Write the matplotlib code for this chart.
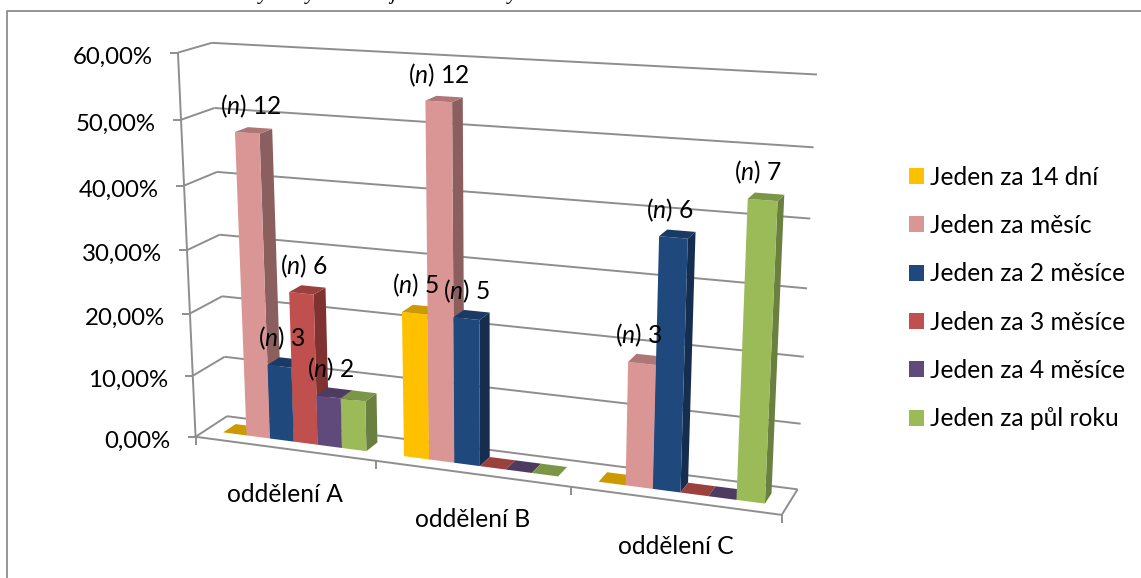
import numpy as np
import matplotlib
matplotlib.use("Agg")
import matplotlib.pyplot as plt
from matplotlib.patches import Patch

categories = ["oddělení A", "oddělení B", "oddělení C"]
series = ["Jeden za 14 dní", "Jeden za měsíc", "Jeden za 2 měsíce",
          "Jeden za 3 měsíce", "Jeden za 4 měsíce", "Jeden za půl roku"]
yellow_vals = [0.0, 22.7, 0.0]
pink_vals = [48.0, 54.5, 18.75]
blue_vals = [12.0, 22.7, 37.5]
red_vals = [24.0, 0.0, 0.0]
purple_vals = [8.0, 0.0, 0.0]
green_vals = [8.0, 0.0, 43.75]
values = [yellow_vals, pink_vals, blue_vals, red_vals, purple_vals, green_vals]
yellow_n = [None, 5, None]
pink_n = [12, 12, 3]
blue_n = [3, 5, 6]
red_n = [6, None, None]
purple_n = [2, None, None]
green_n = [None, None, 7]
counts = [yellow_n, pink_n, blue_n, red_n, purple_n, green_n]
ticks = [0, 10, 20, 30, 40, 50, 60]
tick_labels = ["0,00%", "10,00%", "20,00%", "30,00%", "40,00%", "50,00%", "60,00%"]
caption_marks = ["y", "y", "j", "y"]

front = ["#FFC000", "#D99694", "#1F497D", "#C0504D", "#604A7B", "#9BBB59"]
top = ["#CC9A00", "#AE7776", "#193A64", "#9A403D", "#4D3B62", "#7C9647"]
side = ["#A67D00", "#8C5F5F", "#152E50", "#7F3230", "#3F304F", "#6A8040"]
GRID = "#8E8E8E"
FONT = "Lato"
FS = 17.7
FS_TICK = 17.3

plt.rcParams["font.family"] = FONT
plt.rcParams["mathtext.fontset"] = "custom"
plt.rcParams["mathtext.rm"] = FONT
plt.rcParams["mathtext.it"] = FONT + ":italic"

# camera: (category position, percent, depth) -> pixel, calibrated on the plot box corners
world = np.array([[0, 0, 0], [3, 0, 0], [3, 0, 1], [0, 0, 1], [0, 60, 0], [0, 60, 1], [3, 60, 1],
                  [0, 30, 1], [3, 30, 1], [1, 0, 0], [2, 0, 0]], float)
pix = np.array([[196, 437], [782, 515], [798, 489], [227, 416], [178, 52], [212, 43], [817, 75],
                [219, 235], [807, 288], [377, 461], [570, 487]], float)
A = []
for (X, Y, Z), (u, v) in zip(world, pix):
    A.append([X, Y, Z, 1, 0, 0, 0, 0, -u * X, -u * Y, -u * Z, -u])
    A.append([0, 0, 0, 0, X, Y, Z, 1, -v * X, -v * Y, -v * Z, -v])
P = np.linalg.svd(np.array(A))[2][-1].reshape(3, 4)


def project(x, v, d):
    h = P @ np.array([x, v, d, 1.0])
    return h[0] / h[2], h[1] / h[2]


fig = plt.figure(figsize=(11.41, 5.78), dpi=100)
ax = fig.add_axes([0, 0, 1, 1])
ax.set_xlim(0, 1141)
ax.set_ylim(578, 0)
ax.axis("off")


def line(a, b, color=GRID, lw=1.4, z=1):
    ax.plot([a[0], b[0]], [a[1], b[1]], color=color, lw=lw, zorder=z, solid_capstyle="butt")


# chart frame
ax.plot([7, 7, 1141], [578, 10.5, 10.5], color="#8C8C8C", lw=1.3, zorder=0)

# caption cut off by the top of the picture: only its descenders show
for px, mark in zip([263, 310, 393, 512], caption_marks):
    ax.text(px, -1, mark, ha="center", va="baseline", fontsize=15, style="italic",
            color="black", family="Liberation Serif")

# walls and floor
for t, lab in zip(ticks, tick_labels):
    line(project(0, t, 0), project(0, t, 1))
    line(project(0, t, 1), project(3, t, 1))
    p = project(0, t, 0)
    line((p[0] - 8, p[1]), p)
    ax.text(p[0] - 25, p[1] + 4.5, lab, ha="right", va="center", fontsize=FS_TICK, color="black")
line(project(0, 0, 0), project(0, 60, 0))
line(project(0, 0, 0), project(3, 0, 0))
line(project(3, 0, 0), project(3, 0, 1))
for c in range(4):
    p = project(c, 0, 0)
    line(p, (p[0], p[1] + 8))
for c, name in enumerate(categories):
    p = project(c + 0.5, 0, 0)
    ax.text(p[0] + 1, p[1] + 45.5, name, ha="center", va="center", fontsize=FS, color="black")

# bars, painted left to right so that each front hides the side of its neighbour
BAR = 0.133
GAP = 0.10
D0, D1 = 0.32, 0.72
labels = []
for c in range(len(categories)):
    for s in range(len(series)):
        val = values[s][c]
        x0 = c + GAP + s * BAR
        x1 = x0 + BAR
        f = [project(x0, 0, D0), project(x1, 0, D0), project(x1, val, D0), project(x0, val, D0)]
        tp = [project(x0, val, D0), project(x1, val, D0), project(x1, val, D1), project(x0, val, D1)]
        sd = [project(x1, 0, D0), project(x1, 0, D1), project(x1, val, D1), project(x1, val, D0)]
        z = 3 + 0.01 * (c * 6 + s)
        if val > 0:
            ax.fill(*zip(*sd), color=side[s], lw=0, zorder=z)
            ax.fill(*zip(*f), color=front[s], lw=0, zorder=z)
        ax.fill(*zip(*tp), color=top[s], lw=0, zorder=z)
        if counts[s][c] is not None:
            q = project((x0 + x1) / 2, val, (D0 + D1) / 2)
            labels.append((q[0] - 3 - 0.01 * (q[0] - 250), q[1] - 24, counts[s][c]))
for px, py, n in labels:
    ax.text(px, py, r"($\mathit{n}$) " + str(n), ha="center", va="center", fontsize=FS,
            color="black", zorder=10)

handles = [Patch(facecolor=col, edgecolor="none") for col in front]
ax.legend(handles, series, loc="center left", bbox_to_anchor=(909 / 1141, 1 - 298 / 578),
          frameon=False, fontsize=FS, handlelength=0.61, handleheight=0.61,
          handletextpad=0.25, labelspacing=1.03, borderpad=0, borderaxespad=0)

fig.savefig("out.png", dpi=100)
